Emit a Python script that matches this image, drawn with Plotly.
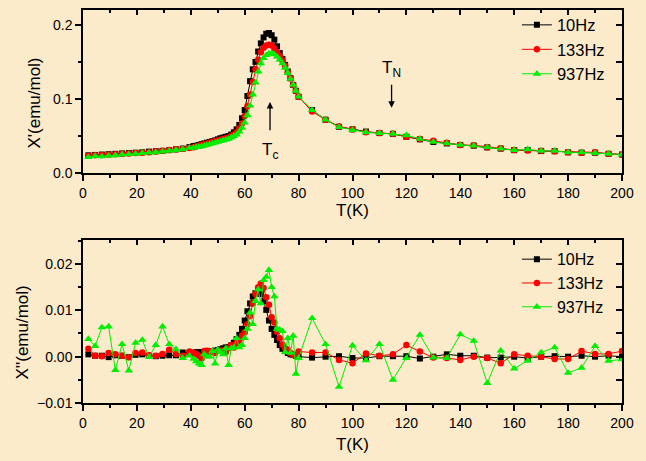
import plotly.graph_objects as go

# ---------------- data ----------------
T_low = [2, 4.5, 7, 9.5, 12, 14.5, 17, 19.5, 22, 24.5, 27, 29.5, 32, 34.5, 37, 39.5]
T_mid = [41, 42, 43, 44, 45, 46, 47, 48, 49, 50, 51, 52, 53, 54, 55, 56, 57, 58, 59, 60,
         61, 62, 63, 64, 65, 66, 67, 68, 69, 70, 71, 72, 73, 74, 75, 76, 77, 78, 79, 80]
T_high = [85, 90, 95, 100, 105, 110, 115, 120, 125, 130, 135, 140, 145, 150, 155, 160,
          165, 170, 175, 180, 185, 190, 195, 200]
T = T_low + T_mid + T_high

chi1_10 = ([0.024, 0.0245, 0.025, 0.0255, 0.026, 0.0265, 0.027, 0.0275, 0.028, 0.029, 0.0295, 0.030, 0.031, 0.032, 0.033, 0.035]
           + [0.0365, 0.037, 0.038, 0.039, 0.040, 0.041, 0.042, 0.043, 0.044, 0.0455, 0.047, 0.048, 0.049, 0.050, 0.052, 0.055, 0.059, 0.065, 0.074, 0.085,
              0.104, 0.124, 0.140, 0.150, 0.164, 0.175, 0.183, 0.188, 0.189, 0.186, 0.180, 0.171, 0.162, 0.154, 0.146, 0.137, 0.128, 0.119, 0.111, 0.103]
           + [0.085, 0.072, 0.0625, 0.059, 0.056, 0.054, 0.053, 0.049, 0.0455, 0.042, 0.040, 0.038, 0.037, 0.0347, 0.033, 0.031, 0.031, 0.0297, 0.0295, 0.028, 0.0275, 0.0275, 0.026, 0.025])
chi1_133 = ([0.0235, 0.024, 0.0245, 0.025, 0.0255, 0.026, 0.0265, 0.027, 0.0275, 0.028, 0.029, 0.030, 0.031, 0.032, 0.033, 0.034]
            + [0.035, 0.036, 0.037, 0.038, 0.039, 0.040, 0.041, 0.042, 0.043, 0.044, 0.045, 0.046, 0.047, 0.048, 0.050, 0.052, 0.055, 0.060, 0.067, 0.077,
               0.090, 0.106, 0.123, 0.140, 0.153, 0.163, 0.169, 0.172, 0.173, 0.172, 0.168, 0.163, 0.158, 0.152, 0.145, 0.136, 0.128, 0.119, 0.111, 0.103]
            + [0.083, 0.072, 0.063, 0.059, 0.055, 0.054, 0.053, 0.049, 0.046, 0.0435, 0.041, 0.038, 0.0375, 0.035, 0.0335, 0.031, 0.0305, 0.030, 0.0295, 0.028, 0.0275, 0.028, 0.026, 0.025])
chi1_937 = ([0.0215, 0.023, 0.0225, 0.0235, 0.024, 0.025, 0.0255, 0.026, 0.027, 0.0275, 0.028, 0.029, 0.030, 0.031, 0.032, 0.034]
            + [0.034, 0.035, 0.0355, 0.036, 0.037, 0.038, 0.039, 0.040, 0.041, 0.042, 0.043, 0.044, 0.045, 0.046, 0.048, 0.050, 0.052, 0.056, 0.061, 0.068,
               0.078, 0.091, 0.106, 0.122, 0.137, 0.148, 0.155, 0.159, 0.161, 0.162, 0.160, 0.157, 0.153, 0.148, 0.142, 0.135, 0.127, 0.119, 0.111, 0.103]
            + [0.085, 0.072, 0.062, 0.058, 0.055, 0.054, 0.053, 0.051, 0.046, 0.042, 0.040, 0.038, 0.037, 0.035, 0.033, 0.031, 0.032, 0.030, 0.030, 0.028, 0.028, 0.027, 0.026, 0.025])

chi2_10 = ([0.0005, 0.0002, 0.0002, -0.0001, 0.0003, 0.0002, -0.0001, 0.0004, 0.0005, 0.0002, 0.0001, 0.0002, 0.0003, 0.0003, 0.0009, 0.0008]
           + [0.0008, 0.001, 0.001, 0.0009, 0.001, 0.0011, 0.0012, 0.0012, 0.0013, 0.0014, 0.0016, 0.0018, 0.002, 0.002, 0.0024, 0.003, 0.0038, 0.0047, 0.006, 0.0078,
              0.0098, 0.0115, 0.013, 0.0137, 0.0143, 0.0135, 0.0119, 0.0101, 0.0078, 0.006, 0.0047, 0.0036, 0.0025, 0.0017, 0.0012, 0.0008, 0.0005, 0.0004, 0.0002, 0.0]
           + [-0.0002, 0.0, 0.0001, -0.0003, -0.0003, 0.0001, 0.0001, 0.0001, -0.0004, 0.0, 0.0005, 0.0002, 0.0002, -0.0002, -0.0002, 0.0, -0.0003, 0.0, 0.0001, 0.0, 0.0002, 0.0, 0.0002, 0.0])
chi2_133 = ([0.0017, 0.0002, 0.0001, 0.0008, 0.0005, 0.0002, -0.0001, 0.0008, 0.0009, 0.0003, 0.0002, 0.0006, 0.0015, 0.0006, 0.0002, 0.0011]
            + [0.0009, 0.0006, 0.0002, -0.0004, 0.0012, 0.0013, 0.0012, 0.001, 0.0008, 0.0012, 0.0014, 0.0012, 0.001, 0.0018, 0.0025, 0.002, 0.003, 0.0035, 0.0045, 0.0052,
               0.007, 0.0088, 0.0115, 0.0135, 0.015, 0.0158, 0.0148, 0.0128, 0.0112, 0.0085, 0.0074, 0.0054, 0.004, 0.0026, 0.0018, 0.0015, 0.0008, 0.0004, 0.0002, 0.0011]
            + [0.0009, 0.0009, -0.0007, -0.0014, 0.0007, 0.0002, 0.0005, 0.0025, 0.0011, -0.0002, -0.0003, -0.0007, 0.0, -0.0003, -0.0014, 0.0005, 0.0002, 0.0, -0.0005, -0.0005, 0.0012, 0.0006, 0.0006, 0.0012])
chi2_937 = ([0.0038, 0.0023, 0.0063, 0.0065, -0.0029, 0.0027, -0.003, 0.003, 0.0036, -0.0001, 0.0025, 0.0065, 0.0027, 0.0016, -0.0003, 0.0002]
            + [-0.0005, -0.001, -0.0015, -0.0018, 0.0005, 0.0, 0.0, 0.0012, -0.0015, 0.0015, 0.001, 0.0005, 0.0018, -0.0018, 0.0018, 0.002, 0.004, 0.002, 0.0025, 0.004,
               0.006, 0.0095, 0.007, 0.012, 0.0145, 0.0115, 0.0165, 0.0172, 0.0187, 0.015, 0.013, 0.006, 0.0058, 0.0055, 0.001, 0.004, 0.0008, 0.0045, -0.0037, -0.0003]
            + [0.0083, 0.0027, -0.0065, 0.0024, -0.0008, 0.0027, -0.005, -0.0003, 0.0047, -0.0002, -0.0003, 0.0048, 0.0034, -0.0057, 0.0013, -0.0026, -0.0009, 0.0009, 0.002, -0.0035, -0.0024, 0.0023, -0.0009, -0.0006])

names = ["10Hz", "133Hz", "937Hz"]
colors = ["#000000", "#ff0000", "#00ee00"]
symbols = ["square", "circle", "triangle-up"]
msizes = [6, 6.5, 7.5]

BG = "#FBEBCB"
FONT = "Arial, Liberation Sans, sans-serif"

fig = go.Figure()
top = [chi1_10, chi1_133, chi1_937]
bot = [chi2_10, chi2_133, chi2_937]
for i in range(3):
    fig.add_trace(go.Scatter(x=T, y=top[i], mode="lines+markers", name=names[i],
                             line=dict(color=colors[i], width=1),
                             marker=dict(symbol=symbols[i], size=msizes[i], color=colors[i]),
                             xaxis="x", yaxis="y", legend="legend"))
for i in range(3):
    fig.add_trace(go.Scatter(x=T, y=bot[i], mode="lines+markers", name=names[i],
                             line=dict(color=colors[i], width=1),
                             marker=dict(symbol=symbols[i], size=msizes[i], color=colors[i]),
                             xaxis="x2", yaxis="y2", legend="legend2"))
# empty traces so the inner mirror-tick axes are drawn
fig.add_trace(go.Scatter(x=[], y=[], xaxis="x3", yaxis="y3", showlegend=False, hoverinfo="skip"))
fig.add_trace(go.Scatter(x=[], y=[], xaxis="x4", yaxis="y4", showlegend=False, hoverinfo="skip"))

tickfont = dict(family=FONT, size=14, color="black")
titlefont = dict(family=FONT, size=17, color="black")

def xax(anchor, standoff):
    return dict(range=[0, 200], tickvals=[0, 20, 40, 60, 80, 100, 120, 140, 160, 180, 200],
                ticks="outside", ticklen=6, tickwidth=1.5, tickcolor="black",
                minor=dict(dtick=10, tick0=0, ticks="outside", ticklen=3, tickwidth=1.5, tickcolor="black"),
                showline=True, linewidth=1.5, linecolor="black", mirror=True,
                showgrid=False, zeroline=False, tickfont=tickfont, anchor=anchor,
                title=dict(text="T(K)", font=titlefont, standoff=standoff))

def inner_x(over, anchor):
    return dict(overlaying=over, anchor=anchor, side="top", range=[0, 200],
                tickvals=[0, 20, 40, 60, 80, 100, 120, 140, 160, 180, 200],
                ticks="inside", ticklen=5, tickwidth=1.5, tickcolor="black",
                minor=dict(dtick=10, tick0=0, ticks="inside", ticklen=3, tickwidth=1.5, tickcolor="black"),
                showticklabels=False, showline=False, showgrid=False, zeroline=False)

fig.update_layout(
    width=646, height=461,
    margin=dict(l=83, r=24, t=10, b=58, autoexpand=False),
    paper_bgcolor=BG, plot_bgcolor=BG,
    font=dict(family=FONT, color="black"),
    xaxis=xax("y", 4),
    yaxis=dict(domain=[0.585, 1.0], range=[0, 0.22], tickvals=[0.0, 0.1, 0.2], tickformat=".1f",
               ticks="outside", ticklen=6, tickwidth=1.5, tickcolor="black",
               minor=dict(dtick=0.05, tick0=0, ticks="outside", ticklen=3, tickwidth=1.5, tickcolor="black"),
               showline=True, linewidth=1.5, linecolor="black", mirror=True,
               showgrid=False, zeroline=False, tickfont=tickfont, anchor="x"),
    xaxis2=xax("y2", 9),
    yaxis2=dict(domain=[0.0, 0.415], range=[-0.01, 0.0252], tickvals=[-0.01, 0.0, 0.01, 0.02], tickformat=".2f",
                ticks="outside", ticklen=6, tickwidth=1.5, tickcolor="black",
                minor=dict(dtick=0.005, tick0=0, ticks="outside", ticklen=3, tickwidth=1.5, tickcolor="black"),
                showline=True, linewidth=1.5, linecolor="black", mirror=True,
                showgrid=False, zeroline=False, tickfont=tickfont, anchor="x2"),
    xaxis3=inner_x("x", "y3"),
    yaxis3=dict(overlaying="y", anchor="x3", side="right", range=[0, 0.22],
                tickvals=[0.0, 0.1, 0.2], ticks="inside", ticklen=6, tickwidth=1.5, tickcolor="black",
                minor=dict(dtick=0.05, tick0=0, ticks="inside", ticklen=6, tickwidth=1.5, tickcolor="black"),
                showticklabels=False, showline=False, showgrid=False, zeroline=False),
    xaxis4=inner_x("x2", "y4"),
    yaxis4=dict(overlaying="y2", anchor="x4", side="right", range=[-0.01, 0.0252],
                tickvals=[-0.01, 0.0, 0.01, 0.02], ticks="inside", ticklen=6, tickwidth=1.5, tickcolor="black",
                minor=dict(dtick=0.005, tick0=0, ticks="inside", ticklen=6, tickwidth=1.5, tickcolor="black"),
                showticklabels=False, showline=False, showgrid=False, zeroline=False),
    legend=dict(x=0.805, y=1.006, xanchor="left", yanchor="top", bgcolor="rgba(0,0,0,0)",
                font=dict(family=FONT, size=16.5, color="black"), tracegroupgap=0, itemwidth=30),
    legend2=dict(x=0.805, y=0.409, xanchor="left", yanchor="top", bgcolor="rgba(0,0,0,0)",
                 font=dict(family=FONT, size=16, color="black"), tracegroupgap=0, itemwidth=30),
    showlegend=True,
)

# y-axis titles
fig.add_annotation(x=-0.089, y=0.762, xref="paper", yref="paper", text="X'(emu/mol)", textangle=-90,
                   showarrow=False, xanchor="center", yanchor="middle", font=titlefont)
fig.add_annotation(x=-0.114, y=0.178, xref="paper", yref="paper", text="X''(emu/mol)", textangle=-90,
                   showarrow=False, xanchor="center", yanchor="middle", font=titlefont)

# T_c and T_N markers (text at the tail of each arrow)
fig.add_annotation(x=69.4, y=0.096, ax=69.4, ay=0.030, xref="x", yref="y", axref="x", ayref="y",
                   text="T<sub>c</sub>", showarrow=True, arrowhead=2, arrowsize=1, arrowwidth=1.3,
                   arrowcolor="black", startstandoff=8, font=dict(family=FONT, size=17, color="black"))
fig.add_annotation(x=114.5, y=0.088, ax=114.5, ay=0.140, xref="x", yref="y", axref="x", ayref="y",
                   text="T<sub>N</sub>", showarrow=True, arrowhead=2, arrowsize=1, arrowwidth=1.3,
                   arrowcolor="black", startstandoff=3, font=dict(family=FONT, size=17, color="black"))

fig.write_html("out.html")
